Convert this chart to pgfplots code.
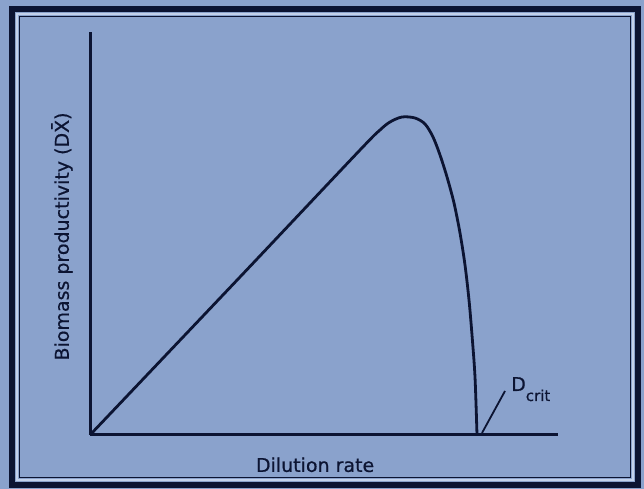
\documentclass[border=0pt]{standalone}
\usepackage{pgfplots}
\pgfplotsset{compat=1.18}
\usepackage{fontspec}
\setmainfont{DejaVu Sans}[FakeBold=0.6]
\definecolor{bg}{RGB}{138,162,204}
\definecolor{ink}{RGB}{12,20,50}
\definecolor{hi}{RGB}{196,210,235}
\begin{document}
\begin{tikzpicture}[x=1pt,y=1pt]
\fill[bg] (0,0) rectangle (644,489);
\draw[ink, line width=5.5] (12,4) rectangle (638,480);
\draw[hi, line width=1.1] (17,9) rectangle (633,475);
\draw[ink, line width=1.1] (19.5,11.5) rectangle (630.5,472.5);
\begin{axis}[
  at={(90pt,54pt)}, anchor=south west,
  scale only axis, width=468pt, height=403pt,
  xmin=0, xmax=468, ymin=0, ymax=403,
  axis x line=bottom, axis y line=left,
  axis line style={ink, line width=3pt, -},
  xtick=\empty, ytick=\empty,
  clip=false,
  xlabel={Dilution rate},
  ylabel={Biomass productivity (DX̄)},
  xlabel style={at={(axis description cs:0.481,-0.074)}, anchor=center,
    font=\fontsize{19}{19}\selectfont, text=ink},
  ylabel style={at={(axis description cs:-0.06,0.4926)}, anchor=center,
    font=\fontsize{19}{19}\selectfont, text=ink},
]
\addplot[ink, line width=2.8pt, smooth, tension=0.5] coordinates {
  (0,0) (150,158) (270,285) (290,305) (300,313) (312,318) (325,317)
  (335,311) (343,298) (350,280) (357,258) (364,232) (370,202) (375,170)
  (379,135) (382,100) (385,58) (387,0)
};
\draw[ink, line width=1.8pt] (axis cs:392,2) -- (axis cs:415,44);
\node[anchor=base west, text=ink, font=\fontsize{19}{19}\selectfont, inner sep=0pt]
  at (axis cs:421,44) {D\raisebox{-10pt}{\fontsize{15}{15}\selectfont crit}};
\end{axis}
\end{tikzpicture}
\end{document}
